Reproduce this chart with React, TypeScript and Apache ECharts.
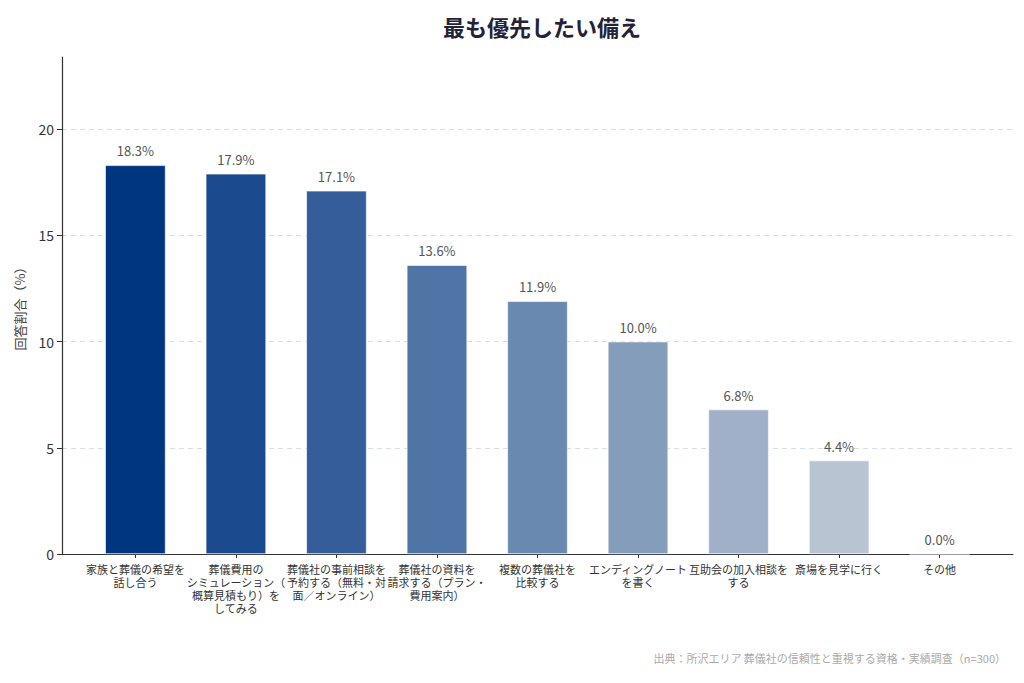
import React, { useRef, useEffect } from 'react';
import * as echarts from 'echarts';

const categories = [
  '家族と葬儀の希望を\n話し合う',
  '葬儀費用の\nシミュレーション（\n概算見積もり）を\nしてみる',
  '葬儀社の事前相談を\n予約する（無料・対\n面／オンライン）',
  '葬儀社の資料を\n請求する（プラン・\n費用案内）',
  '複数の葬儀社を\n比較する',
  'エンディングノート\nを書く',
  '互助会の加入相談を\nする',
  '斎場を見学に行く',
  'その他',
];
const values = [18.3, 17.9, 17.1, 13.6, 11.9, 10.0, 6.8, 4.4, 0.0];
const barColors = [
  '#003580', '#1b4a8e', '#345d99', '#4f74a6', '#6a89b1',
  '#849dbb', '#a0b0c8', '#b8c4d2', '#d2dae4',
];
const yTicks = [0, 5, 10, 15, 20];

const App: React.FC = () => {
  const chartRef = useRef<HTMLDivElement>(null);

  useEffect(() => {
    if (!chartRef.current) return;
    const chart = echarts.init(chartRef.current, undefined, { renderer: 'svg' });
    const xIdx = categories.map((_, i) => i);

    const option: echarts.EChartsOption = {
      animation: false,
      textStyle: { fontFamily: '"Noto Sans CJK JP", "Noto Sans", sans-serif' },
      title: {
        text: '最も優先したい備え',
        left: 537,
        top: 10,
        textAlign: 'center',
        textStyle: { fontSize: 22, fontWeight: 'bold', color: '#22223a' },
      },
      grid: { left: 62, right: 11, top: 57, bottom: 129 },
      xAxis: {
        type: 'value',
        min: -0.73,
        max: 8.73,
        axisLine: { show: true, onZero: false, lineStyle: { color: '#333', width: 1.2 } },
        axisTick: { show: true, length: 4, customValues: xIdx, lineStyle: { color: '#333' } },
        axisLabel: {
          customValues: xIdx,
          formatter: (v: number) => categories[Math.round(v)] ?? '',
          fontSize: 11,
          color: '#333',
          lineHeight: 13,
          margin: 8,
          hideOverlap: false,
        },
        splitLine: { show: false },
      },
      yAxis: {
        type: 'value',
        min: 0,
        max: 23.4,
        name: '回答割合（%）',
        nameLocation: 'middle',
        nameGap: 36,
        nameTextStyle: { fontSize: 13, color: '#444' },
        axisLine: { show: true, onZero: false, lineStyle: { color: '#333', width: 1.2 } },
        axisTick: { show: true, length: 5, customValues: yTicks, lineStyle: { color: '#333' } },
        axisLabel: { customValues: yTicks, fontSize: 14, color: '#333', margin: 8 },
        splitLine: { show: false },
      },
      series: [
        {
          type: 'line',
          data: [],
          z: 0,
          markLine: {
            z: 0,
            silent: true,
            symbol: 'none',
            label: { show: false },
            lineStyle: { color: '#d8dde3', type: [5, 4], width: 1 },
            data: yTicks.filter((t) => t > 0).map((t) => ({ yAxis: t })),
          },
        },
        {
          type: 'bar',
          barWidth: '60%',
          z: 3,
          data: values.map((v, i) => ({
            value: [i, v],
            itemStyle: { color: barColors[i], borderColor: '#ffffff', borderWidth: 0.6 },
          })),
          label: {
            show: true,
            position: 'top',
            distance: 8,
            formatter: (p: any) => `${p.value[1].toFixed(1)}%`,
            fontSize: 13,
            color: '#555',
          },
        },
      ],
      graphic: [
        {
          type: 'text',
          right: 18,
          top: 652,
          style: {
            text: '出典：所沢エリア 葬儀社の信頼性と重視する資格・実績調査（n=300）',
            fontSize: 11,
            fill: '#aaaaaa',
            fontFamily: '"Noto Sans CJK JP", sans-serif',
          },
        },
      ],
    };

    chart.setOption(option);
    return () => {
      chart.dispose();
    };
  }, []);

  return <div ref={chartRef} style={{ width: 1024, height: 683, margin: -8 }} />;
};

export default App;
